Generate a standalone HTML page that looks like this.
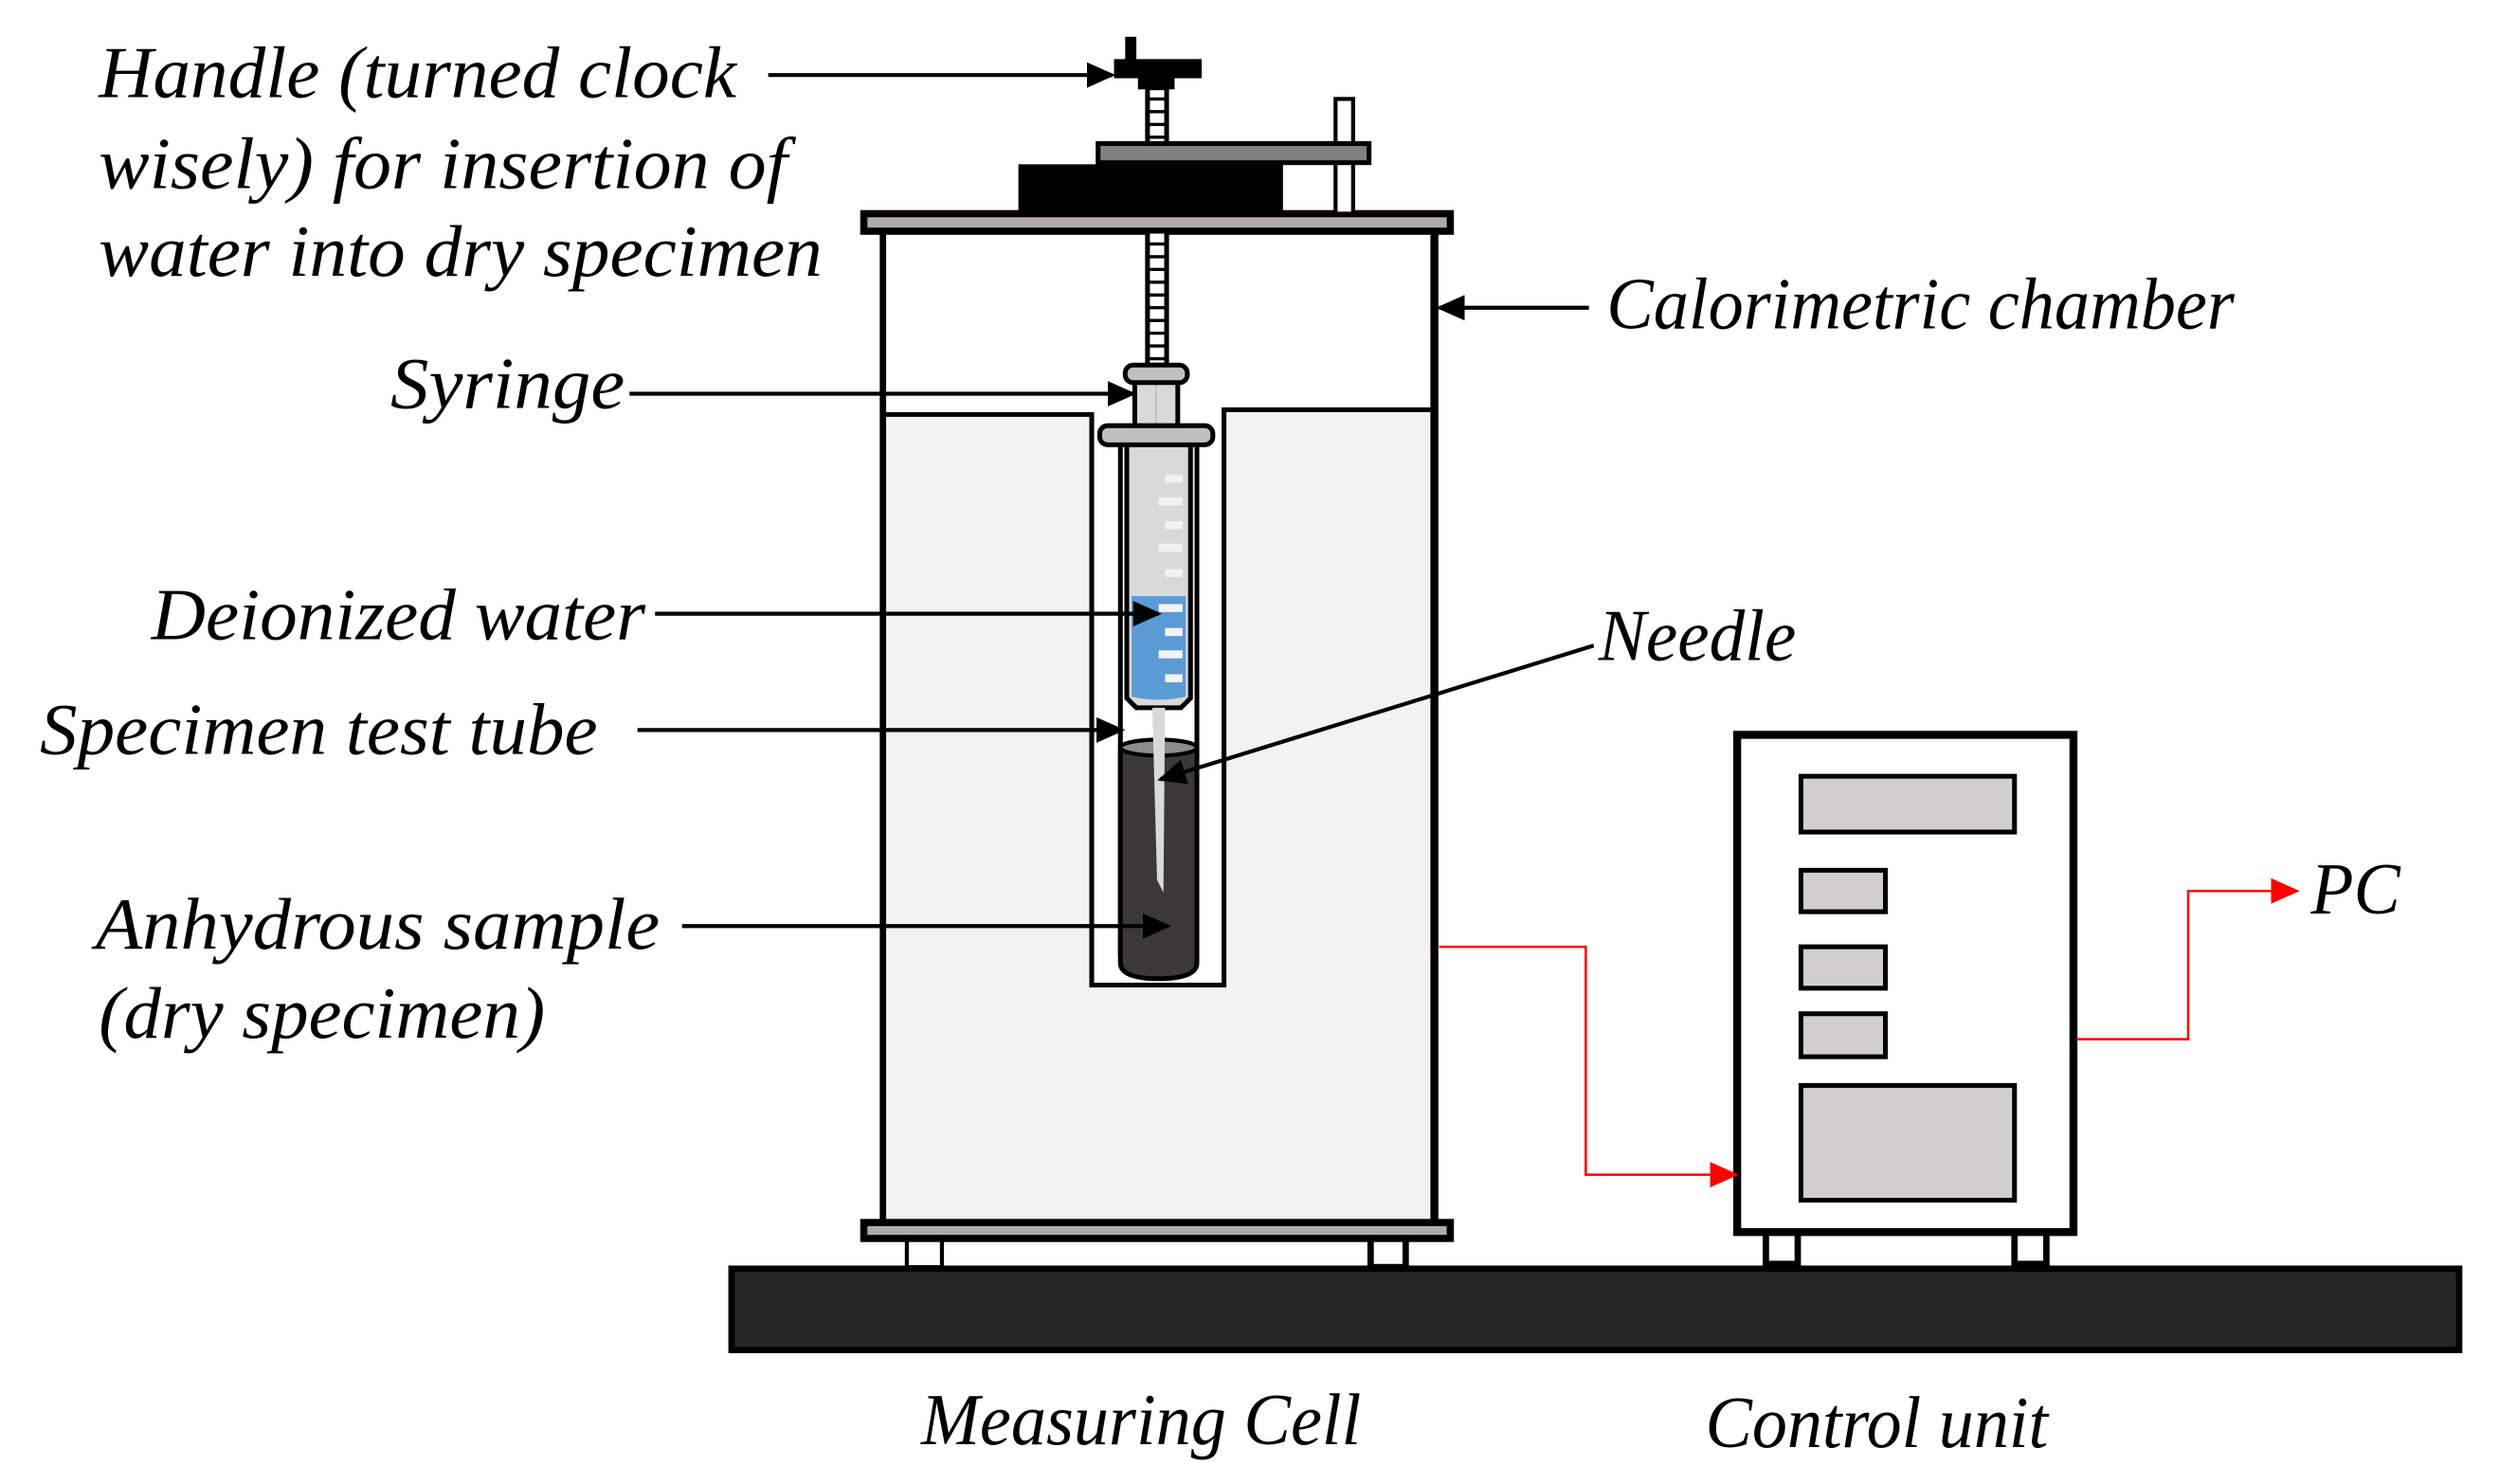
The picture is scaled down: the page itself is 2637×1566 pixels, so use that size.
<!DOCTYPE html>
<html><head><meta charset="utf-8"><style>
html,body{margin:0;padding:0;background:#fff;}
svg{display:block;}
text{font-family:"Liberation Serif",serif;font-style:italic;fill:#000;}
</style></head><body>
<svg width="2637" height="1566" viewBox="0 0 1568 931" xmlns="http://www.w3.org/2000/svg">
<defs>
<marker id="ab2" markerWidth="18" markerHeight="16" refX="16" refY="8" orient="auto" markerUnits="userSpaceOnUse"><path d="M0,0 L18,8 L0,16 Z" fill="#000"/></marker>
<marker id="ar2" markerWidth="18" markerHeight="16" refX="16" refY="8" orient="auto" markerUnits="userSpaceOnUse"><path d="M0,0 L18,8 L0,16 Z" fill="#f00"/></marker>
</defs>

<rect x="459" y="796" width="1084" height="51" fill="#262626" stroke="#000" stroke-width="4"/>

<rect x="569" y="777" width="22" height="18" fill="#fff" stroke="#000" stroke-width="2.5"/>
<rect x="860" y="777" width="22" height="18" fill="#fff" stroke="#000" stroke-width="4"/>

<path d="M553,260 L685,260 L685,618 L768,618 L768,257 L900,257 L900,768 L553,768 Z" fill="#f2f2f2"/>
<path d="M553,260 L685,260 L685,618 L768,618 L768,257 L900,257" fill="none" stroke="#000" stroke-width="3"/>
<line x1="554" y1="145" x2="554" y2="768" stroke="#000" stroke-width="4"/>
<line x1="900" y1="145" x2="900" y2="768" stroke="#000" stroke-width="5"/>
<rect x="542" y="134" width="368" height="11" fill="#aeaaaa" stroke="#000" stroke-width="4.5"/>
<rect x="542" y="767" width="368" height="10" fill="#aeaaaa" stroke="#000" stroke-width="4.5"/>

<rect x="639" y="103" width="166" height="31" fill="#000"/>
<rect x="838" y="62" width="11" height="72" fill="#fff" stroke="#000" stroke-width="2.5"/>
<rect x="689" y="90" width="170" height="12" fill="#808080" stroke="#000" stroke-width="3"/>
<rect x="720" y="55" width="12" height="35" fill="#fff" stroke="#000" stroke-width="3"/>
<rect x="720" y="145" width="12" height="84" fill="#fff" stroke="#000" stroke-width="3"/>
<g stroke="#000" stroke-width="2">
<line x1="720" y1="62" x2="732" y2="62"/><line x1="720" y1="70" x2="732" y2="70"/><line x1="720" y1="78" x2="732" y2="78"/><line x1="720" y1="86" x2="732" y2="86"/>
<line x1="720" y1="153" x2="732" y2="153"/><line x1="720" y1="161" x2="732" y2="161"/><line x1="720" y1="169" x2="732" y2="169"/><line x1="720" y1="177" x2="732" y2="177"/><line x1="720" y1="185" x2="732" y2="185"/><line x1="720" y1="193" x2="732" y2="193"/><line x1="720" y1="201" x2="732" y2="201"/><line x1="720" y1="209" x2="732" y2="209"/><line x1="720" y1="217" x2="732" y2="217"/><line x1="720" y1="225" x2="732" y2="225"/>
</g>
<rect x="706" y="23" width="7" height="15" fill="#000"/>
<rect x="699" y="37" width="55" height="12" fill="#000"/>
<rect x="714" y="48" width="23" height="8" fill="#000"/>

<line x1="703" y1="278" x2="703" y2="600" stroke="#000" stroke-width="3"/>
<line x1="751" y1="278" x2="751" y2="600" stroke="#000" stroke-width="3"/>
<path d="M703,469 L703,604 Q703,614 727,614 Q751,614 751,604 L751,469 Z" fill="#3a3938" stroke="#000" stroke-width="3"/>
<ellipse cx="727" cy="469" rx="24" ry="5" fill="#8c8c8c" stroke="#000" stroke-width="2.5"/>

<path d="M707,279 L707,438 L713,444 L741,444 L747,438 L747,279 Z" fill="#d9d9d9" stroke="#000" stroke-width="3"/>
<path d="M710,374 L744,374 L744,437 Q727,441 710,437 Z" fill="#5b9bd5"/>
<g fill="#f2f2f2">
<rect x="731" y="298" width="11" height="5"/><rect x="727" y="312" width="15" height="5"/><rect x="731" y="327" width="11" height="5"/><rect x="727" y="341" width="15" height="5"/><rect x="731" y="357" width="11" height="5"/>
<rect x="727" y="379" width="15" height="5"/><rect x="731" y="394" width="11" height="5"/><rect x="727" y="408" width="15" height="5"/><rect x="731" y="423" width="11" height="5"/>
</g>
<path d="M723,444 L731,444 L730,560 L726,552 Z" fill="#d9d9d9"/>
<rect x="712" y="238" width="27" height="30" fill="#d9d9d9" stroke="#000" stroke-width="3"/>
<line x1="725.5" y1="238" x2="725.5" y2="268" stroke="#bbb" stroke-width="1"/>
<rect x="706" y="229" width="39" height="11" rx="5" fill="#bfbfbf" stroke="#000" stroke-width="3"/>
<rect x="690" y="267" width="71" height="12" rx="5" fill="#bfbfbf" stroke="#000" stroke-width="3"/>

<rect x="1108" y="773" width="20" height="20" fill="#fff" stroke="#000" stroke-width="4"/>
<rect x="1264" y="773" width="20" height="20" fill="#fff" stroke="#000" stroke-width="4"/>
<rect x="1090" y="461" width="211" height="312" fill="#fff" stroke="#000" stroke-width="5"/>
<g fill="#d0cece" stroke="#000" stroke-width="3">
<rect x="1130" y="487" width="134" height="35"/>
<rect x="1130" y="546" width="53" height="26"/>
<rect x="1130" y="594" width="53" height="26"/>
<rect x="1130" y="636" width="53" height="27"/>
<rect x="1130" y="681" width="134" height="72"/>
</g>

<polyline points="903,594 995,594 995,737 1089,737" fill="none" stroke="#f00" stroke-width="1.5" marker-end="url(#ar2)"/>
<polyline points="1303,652 1373,652 1373,559 1441,559" fill="none" stroke="#f00" stroke-width="1.5" marker-end="url(#ar2)"/>

<g stroke="#000" stroke-width="2.5" fill="none">
<line x1="482" y1="47" x2="698" y2="47" marker-end="url(#ab2)"/>
<line x1="997" y1="193" x2="903" y2="193" marker-end="url(#ab2)"/>
<line x1="395" y1="247" x2="711" y2="247" marker-end="url(#ab2)"/>
<line x1="411" y1="385" x2="727" y2="385" marker-end="url(#ab2)"/>
<line x1="400" y1="458" x2="704" y2="458" marker-end="url(#ab2)"/>
<line x1="428" y1="581" x2="733" y2="581" marker-end="url(#ab2)"/>
<line x1="1000" y1="405" x2="728" y2="489" marker-end="url(#ab2)"/>
</g>

<g font-size="46">
<text x="62" y="61" textLength="400" lengthAdjust="spacingAndGlyphs">Handle (turned clock</text>
<text x="62" y="118" textLength="432" lengthAdjust="spacingAndGlyphs">wisely) for insertion of</text>
<text x="62" y="173" textLength="454" lengthAdjust="spacingAndGlyphs">water into dry specimen</text>
<text x="1008" y="206" textLength="394" lengthAdjust="spacingAndGlyphs">Calorimetric chamber</text>
<text x="245" y="256" textLength="147" lengthAdjust="spacingAndGlyphs">Syringe</text>
<text x="95" y="401" textLength="310" lengthAdjust="spacingAndGlyphs">Deionized water</text>
<text x="1003" y="414" textLength="124" lengthAdjust="spacingAndGlyphs">Needle</text>
<text x="25" y="473" textLength="350" lengthAdjust="spacingAndGlyphs">Specimen test tube</text>
<text x="60" y="595" textLength="354" lengthAdjust="spacingAndGlyphs">Anhydrous  sample</text>
<text x="62" y="651" textLength="280" lengthAdjust="spacingAndGlyphs">(dry specimen)</text>
<text x="1450" y="573" textLength="56" lengthAdjust="spacingAndGlyphs">PC</text>
<text x="578" y="906" textLength="276" lengthAdjust="spacingAndGlyphs">Measuring Cell</text>
<text x="1070" y="908" textLength="215" lengthAdjust="spacingAndGlyphs">Control unit</text>
</g>
</svg>
</body></html>
